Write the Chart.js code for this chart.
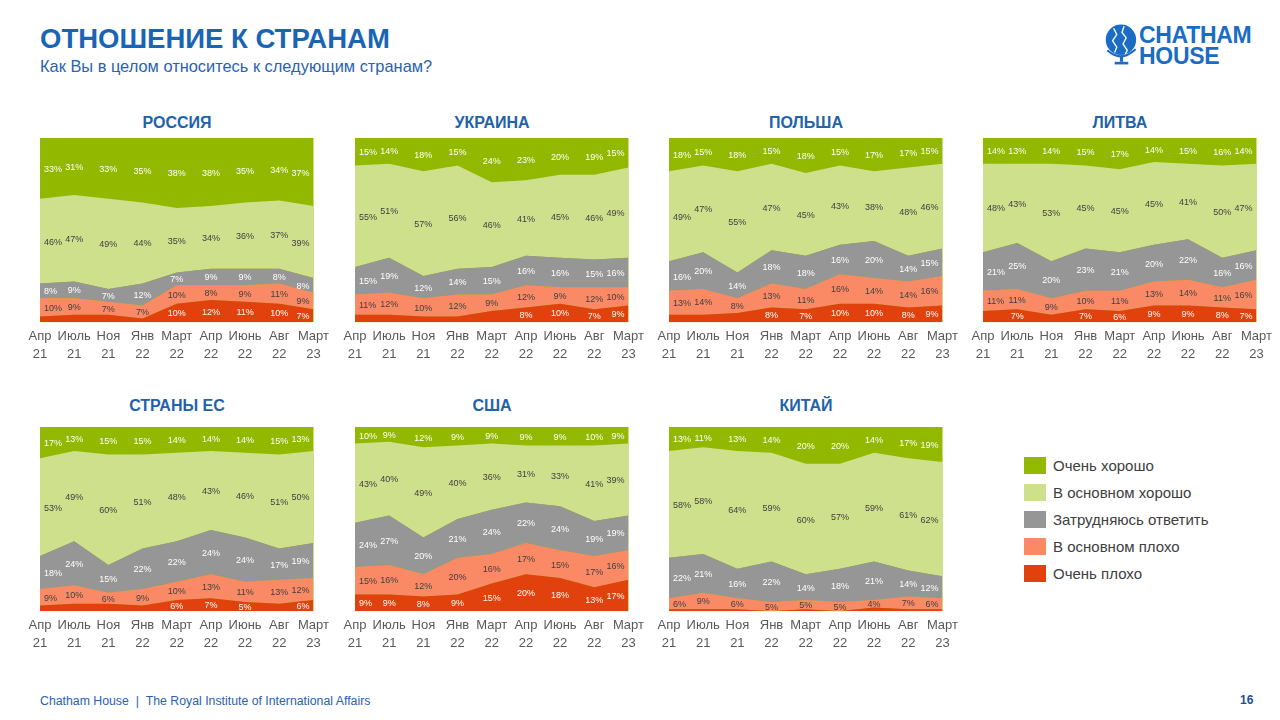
<!DOCTYPE html>
<html lang="ru">
<head>
<meta charset="utf-8">
<title>Отношение к странам</title>
<script src="https://cdn.jsdelivr.net/npm/chart.js@4.4.1/dist/chart.umd.min.js"></script>
<style>
  body { margin: 0; width: 1280px; height: 720px; background: #fff; position: relative; overflow: hidden;
         font-family: "Liberation Sans", Arial, sans-serif; }
  .abs { position: absolute; }
  #title { left: 40px; top: 23px; font-size: 27.5px; font-weight: bold; color: #1a64b4; }
  #subtitle { left: 40px; top: 57px; font-size: 16.4px; color: #2a62b0; }
  .ctitle { font-size: 16px; font-weight: bold; color: #2262ab; text-align: center; width: 274px; }
  .legend-row { display: flex; align-items: center; font-size: 15px; color: #404040; height: 27px; }
  .legend-row span.sw { width: 22px; height: 17px; margin-right: 7px; display: inline-block; }
  #logo { left: 1104px; top: 22px; width: 160px; height: 45px; }
  #logo .txt { position: absolute; left: 35px; top: 3px; font-size: 23px; font-weight: bold; color: #1a6cc4; line-height: 21px; letter-spacing: -0.3px; }
  #footer { left: 40px; top: 694px; font-size: 12.3px; color: #2a62b0; }
  #page { left: 1240px; top: 693px; font-size: 12px; font-weight: bold; color: #1f4f8f; }
</style>
</head>
<body>
<div id="title" class="abs">ОТНОШЕНИЕ К СТРАНАМ</div>
<div id="subtitle" class="abs">Как Вы в целом относитесь к следующим странам?</div>
<div id="logo" class="abs">
  <svg width="36" height="44" viewBox="0 0 34 42" style="position:absolute;left:0;top:0">
    <circle cx="16" cy="17" r="14.5" fill="#1a6cc4"/>
    <path d="M9 6 L12 12 L8 18 L12 24 L10 29 M19 4 L17 10 L21 15 L18 21 L22 27 L20 31" stroke="#fff" stroke-width="1.3" fill="none"/>
    <path d="M3 27 Q16 39 30 26" stroke="#1a6cc4" stroke-width="2" fill="none"/>
    <rect x="15" y="33" width="3" height="5" fill="#1a6cc4"/>
    <rect x="10" y="38" width="13" height="2.5" fill="#1a6cc4"/>
  </svg>
  <div class="txt">CHATHAM<br>HOUSE</div>
</div>
<div id="legend" class="abs" style="left:1024px; top:452px;"></div>
<div id="footer" class="abs">Chatham House&nbsp; | &nbsp;The Royal Institute of International Affairs</div>
<div id="page" class="abs">16</div>

<script>
// Оси и серии
const months = [["Апр", "21"], ["Июль", "21"], ["Ноя", "21"], ["Янв", "22"], ["Март", "22"],
                ["Апр", "22"], ["Июнь", "22"], ["Авг", "22"], ["Март", "23"]];
const seriesNames = ["Очень хорошо", "В основном хорошо", "Затрудняюсь ответить", "В основном плохо", "Очень плохо"];
const seriesColors = ["#93b800", "#cfe08c", "#969696", "#fa8a65", "#e1410c"];
const labelColors = ["#ffffff", "#404040", "#ffffff", "#404040", "#ffffff"];

// rows: Очень хорошо, В основном хорошо, Затрудняюсь, В основном плохо, Очень плохо
const russia = [
  [33, 31, 33, 35, 38, 38, 35, 34, 37],
  [46, 47, 49, 44, 35, 34, 36, 37, 39],
  [8, 9, 7, 12, 7, 9, 9, 8, 8],
  [10, 9, 7, 7, 10, 8, 9, 11, 9],
  [3, 4, 4, 2, 10, 12, 11, 10, 7]
];
const russiaNoLabel = [0, 1, 2, 3];

const ukraine = [
  [15, 14, 18, 15, 24, 23, 20, 19, 15],
  [55, 51, 57, 56, 46, 41, 45, 46, 49],
  [15, 19, 12, 14, 15, 16, 16, 15, 16],
  [11, 12, 10, 12, 9, 12, 9, 12, 10],
  [4, 4, 3, 3, 6, 8, 10, 7, 9]
];
const ukraineNoLabel = [0, 1, 2, 3, 4];

const poland = [
  [18, 15, 18, 15, 18, 15, 17, 17, 15],
  [49, 47, 55, 47, 45, 43, 38, 48, 46],
  [16, 20, 14, 18, 18, 16, 20, 14, 15],
  [13, 14, 8, 13, 11, 16, 14, 14, 16],
  [4, 4, 5, 8, 7, 10, 10, 8, 9]
];
const polandNoLabel = [0, 1, 2];

const lithuania = [
  [14, 13, 14, 15, 17, 14, 15, 16, 14],
  [48, 43, 53, 45, 45, 45, 41, 50, 47],
  [21, 25, 20, 23, 21, 20, 22, 16, 16],
  [11, 11, 9, 10, 11, 13, 14, 11, 16],
  [6, 7, 4, 7, 6, 9, 9, 8, 7]
];
const lithuaniaNoLabel = [0, 2];

const eu = [
  [17, 13, 15, 15, 14, 14, 14, 15, 13],
  [53, 49, 60, 51, 48, 43, 46, 51, 50],
  [18, 24, 15, 22, 22, 24, 24, 17, 19],
  [9, 10, 6, 9, 10, 13, 11, 13, 12],
  [3, 4, 4, 3, 6, 7, 5, 4, 6]
];
const euNoLabel = [0, 1, 2, 3, 7];

const usa = [
  [10, 9, 12, 9, 9, 9, 9, 10, 9],
  [43, 40, 49, 40, 36, 31, 33, 41, 39],
  [24, 27, 20, 21, 24, 22, 24, 19, 19],
  [15, 16, 12, 20, 16, 17, 15, 17, 16],
  [9, 9, 8, 9, 15, 20, 18, 13, 17]
];
const usaNoLabel = [];

const china = [
  [13, 11, 13, 14, 20, 20, 14, 17, 19],
  [58, 58, 64, 59, 60, 57, 59, 61, 62],
  [22, 21, 16, 22, 14, 18, 21, 14, 12],
  [6, 9, 6, 5, 5, 5, 4, 7, 6],
  [1, 1, 1, 0, 1, 0, 2, 1, 1]
];
const chinaNoLabel = [0, 1, 2, 3, 4, 5, 6, 7, 8];

const FONT = '"Liberation Sans", Arial, sans-serif';
Chart.defaults.font.family = FONT;

// legend
const legendEl = document.getElementById("legend");
seriesNames.forEach((name, i) => {
  const row = document.createElement("div");
  row.className = "legend-row";
  row.innerHTML = '<span class="sw" style="background:' + seriesColors[i] + '"></span>' + name;
  legendEl.appendChild(row);
});

// top band colour behind the stack, so the stack always reaches 100%
const areaBg = {
  id: "areaBg",
  beforeDatasetsDraw(chart) {
    const a = chart.chartArea;
    chart.ctx.save();
    chart.ctx.fillStyle = seriesColors[0];
    chart.ctx.fillRect(a.left, a.top, a.right - a.left, a.bottom - a.top);
    chart.ctx.restore();
  }
};

// percent labels in the middle of each band
const bandLabels = {
  id: "bandLabels",
  afterDatasetsDraw(chart) {
    const ctx = chart.ctx, a = chart.chartArea, y = chart.scales.y;
    const sets = chart.data.datasets;
    ctx.save();
    ctx.font = "9px " + FONT;
    ctx.textAlign = "center";
    ctx.textBaseline = "middle";
    sets.forEach((ds, di) => {
      const meta = chart.getDatasetMeta(di);
      meta.data.forEach((pt, i) => {
        if (ds.noLabel.includes(i)) return;
        let below = 0;
        for (let k = 0; k < di; k++) below += sets[k].data[i];
        const yBottom = y.getPixelForValue(below);
        let yTop = y.getPixelForValue(below + ds.data[i]);
        if (di === sets.length - 1) yTop = a.top;
        yTop = Math.max(yTop, a.top);
        const txt = ds.data[i] + "%";
        const w = ctx.measureText(txt).width;
        let x = pt.x;
        x = Math.max(x, a.left + 4 + w / 2);
        x = Math.min(x, a.right - 4 - w / 2);
        ctx.fillStyle = ds.labelColor;
        ctx.fillText(txt, x, (yTop + yBottom) / 2 + 1);
      });
    });
    ctx.restore();
  }
};

function makeChart(title, rows, noLabel, plotLeft, plotTop, titleTop) {
  const padX = 20, padTop = 4;
  const canvas = document.createElement("canvas");
  canvas.width = 274 + padX * 2;
  canvas.height = 234;
  canvas.className = "abs";
  canvas.style.left = (plotLeft - padX) + "px";
  canvas.style.top = (plotTop - padTop) + "px";
  document.body.appendChild(canvas);

  const t = document.createElement("div");
  t.className = "abs ctitle";
  t.textContent = title;
  t.style.left = plotLeft + "px";
  t.style.top = titleTop + "px";
  document.body.appendChild(t);

  // bottom of the stack first
  const datasets = [];
  for (let s = seriesNames.length - 1; s >= 0; s--) {
    datasets.push({
      label: seriesNames[s],
      data: rows[s],
      backgroundColor: seriesColors[s],
      borderColor: "rgba(0,0,0,0)",
      borderWidth: 0,
      pointRadius: 0,
      tension: 0,
      fill: s === seriesNames.length - 1 ? "origin" : "-1",
      labelColor: labelColors[s],
      noLabel: s === seriesNames.length - 1 ? noLabel : []
    });
  }

  return new Chart(canvas, {
    type: "line",
    data: { labels: months, datasets: datasets },
    options: {
      responsive: false,
      animation: false,
      devicePixelRatio: 1,
      layout: { padding: { left: padX, right: padX, top: padTop, bottom: 0 } },
      plugins: { legend: { display: false }, tooltip: { enabled: false } },
      scales: {
        x: {
          offset: false,
          grid: { display: false, drawTicks: false },
          border: { display: false },
          ticks: { autoSkip: false, maxRotation: 0, padding: 5, color: "#595959",
                   font: { size: 13, lineHeight: 1.38 } }
        },
        y: { display: false, stacked: true, min: 0, max: 100 }
      }
    },
    plugins: [areaBg, bandLabels]
  });
}

makeChart("РОССИЯ", russia, russiaNoLabel, 40, 138, 114);
makeChart("УКРАИНА", ukraine, ukraineNoLabel, 355, 138, 114);
makeChart("ПОЛЬША", poland, polandNoLabel, 669, 138, 114);
makeChart("ЛИТВА", lithuania, lithuaniaNoLabel, 983, 138, 114);
makeChart("СТРАНЫ ЕС", eu, euNoLabel, 40, 427, 397);
makeChart("США", usa, usaNoLabel, 355, 427, 397);
makeChart("КИТАЙ", china, chinaNoLabel, 669, 427, 397);
</script>
</body>
</html>
